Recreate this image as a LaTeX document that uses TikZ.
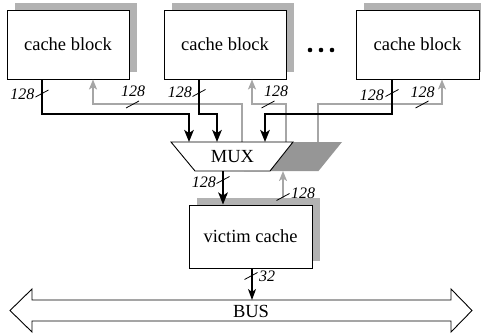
\documentclass[tikz,border=0pt]{standalone}
\usepackage{fontspec}
\setmainfont{Liberation Serif}
\usetikzlibrary{arrows.meta,shadows,calc}
\definecolor{boxshade}{RGB}{178,178,178}
\definecolor{fbline}{RGB}{166,166,166}
\definecolor{muxshade}{RGB}{150,150,150}
\tikzset{
  unit/.style={draw, line width=0.9pt, fill=white, minimum width=122pt,
    minimum height=69pt, inner sep=0pt, font=\fontsize{18.5}{21}\selectfont,
    general shadow={fill=boxshade, shadow xshift=7.5pt, shadow yshift=7pt}},
  rdline/.style={line width=2.3pt, -{Stealth[length=12pt,width=9.5pt,inset=3pt]}},
  wrline/.style={draw=fbline, line width=1.9pt, -{Stealth[length=10pt,width=8pt,inset=2.5pt]}},
  wlabel/.style={font=\fontsize{16}{18}\selectfont\itshape, inner sep=0pt},
  bigtext/.style={font=\fontsize{18.5}{21}\selectfont, inner sep=0pt},
  tickmark/.style={line width=0.8pt},
}
% short slash marking the width of a connection
\newcommand\wtick[1]{\draw[tickmark] ($(#1)+(-6.5,3.5)$) -- ($(#1)+(6.5,-3.5)$);}
\begin{document}
\begin{tikzpicture}[x=1pt,y=-1pt]
\useasboundingbox (0,0) rectangle (481,335);

% cache blocks
\node[unit] (cb1) at (68,44.5) {cache block};
\node[unit] (cb2) at (225,44.5) {cache block};
\node[unit, minimum width=123pt] (cb3) at (417.5,44.5) {cache block};
\fill (310,50) circle (2.3) (321,50) circle (2.3) (332,50) circle (2.3);

% ports on the multiplexer
\coordinate (mi1) at (189,142);
\coordinate (mi2) at (217,142);
\coordinate (mi3) at (265,142);
\coordinate (dm1) at (242,142);
\coordinate (dm2) at (286,142);
\coordinate (dm3) at (318,142);
\coordinate (mo)  at (223,171);
\coordinate (dmin) at (283,171);

% write-back paths to the cache blocks
\draw[wrline] (dm1) |- (93,104) -- ([xshift=25pt]cb1.south);
\draw[wrline] (dm2) |- (252,104) -- ([xshift=27pt]cb2.south);
\draw[wrline] (dm3) |- (442,104) -- ([xshift=24.5pt]cb3.south);

% multiplexer and its shadowed twin
\fill[muxshade] (220,142) -- (342,142) -- (318.5,171) -- (244,171) -- cycle;
\draw[line width=0.9pt, fill=white] (171,142) -- (293,142) -- (270,171) -- (195,171) -- cycle;
\node[bigtext] (mux) at (232.5,157) {MUX};

% read paths into the multiplexer
\draw[rdline] ([xshift=-26pt]cb1.south) |- (189,114) -- (mi1);
\draw[rdline] ([xshift=-26pt]cb2.south) |- (217,114) -- (mi2);
\draw[rdline] ([xshift=-25.5pt]cb3.south) |- (265,114) -- (mi3);

% victim cache
\node[unit, minimum width=123pt, minimum height=63pt] (vc) at (250.5,236.5) {victim cache};
\draw[rdline] (mo) -- ([xshift=-27.5pt]vc.north);
\draw[wrline] ([xshift=32.5pt,yshift=7pt]vc.north) -- (dmin);

% bus
\draw[line width=0.9pt] (32,300) -- (451,300) -- (451,289) -- (472,310.5) -- (451,332)
  -- (451,321) -- (32,321) -- (32,332) -- (10,310.5) -- (32,289) -- cycle;
\node[bigtext] (bus) at (251,311) {BUS};
\coordinate (busin) at (252,300);
\draw[line width=1.1pt, -{Stealth[length=11pt,width=8pt,inset=3pt]}] ([xshift=1.5pt]vc.south) -- (busin);

% width marks and labels
\wtick{42,93.5}   \node[wlabel, anchor=east] (w1) at (34.5,94.5) {128};
\wtick{132.5,104.5} \node[wlabel] (w2) at (133,91.5) {128};
\wtick{199,93}    \node[wlabel, anchor=east] (w3) at (192,92.5) {128};
\wtick{268,104.5} \node[wlabel] (w4) at (276,91.5) {128};
\wtick{392,93}    \node[wlabel, anchor=east] (w5) at (384,95.5) {128};
\wtick{422,104.5} \node[wlabel] (w6) at (422.5,92) {128};
\wtick{223,180}   \node[wlabel, anchor=east] (w7) at (216,182) {128};
\wtick{283,197}   \node[wlabel, anchor=west] (w8) at (291,193) {128};
\wtick{251,276}   \node[wlabel, anchor=west] (w9) at (259,276) {32};
\end{tikzpicture}
\end{document}
